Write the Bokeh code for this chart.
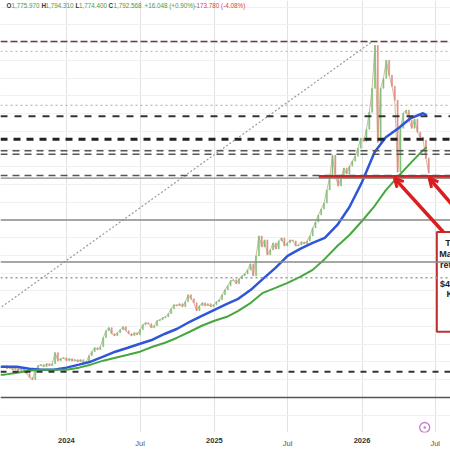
import datetime as dt
import pandas as pd
from bokeh.plotting import figure
from bokeh.models import (ColumnDataSource, Span, Range1d, FixedTicker, SingleIntervalTicker,
                          DatetimeAxis, Label, Arrow, OpenHead)
from bokeh.embed import file_html
from bokeh.resources import INLINE
from bokeh.core.properties import value

# ---------------- data ----------------
week_start = "2023-07-24"
close = [2668, 2686, 2659, 2677, 2650, 2668, 2641, 2659, 2632, 2614,
         2578, 2560, 2650, 2686, 2695, 2677, 2704, 2686, 2704, 2803,
         2731, 2749, 2758, 2731, 2749, 2731, 2740, 2722, 2740, 2713,
         2722, 2776, 2812, 2848, 2830, 2857, 2938, 3001, 3028, 2974,
         2956, 2983, 3010, 3037, 3001, 2974, 2956, 2983, 2965, 3010,
         3055, 3073, 3064, 3028, 3046, 3091, 3100, 3118, 3127, 3154,
         3199, 3235, 3226, 3244, 3217, 3262, 3325, 3289, 3253, 3181,
         3226, 3253, 3226, 3244, 3217, 3235, 3262, 3280, 3325, 3370,
         3406, 3451, 3460, 3424, 3469, 3496, 3514, 3550, 3604, 3496,
         3676, 3856, 3757, 3820, 3685, 3730, 3793, 3739, 3811, 3838,
         3766, 3793, 3820, 3811, 3766, 3775, 3802, 3784, 3811, 3856,
         3928, 3982, 4045, 4099, 4153, 4270, 4387, 4585, 4396, 4306,
         4378, 4468, 4414, 4486, 4531, 4576, 4648, 4738, 4711, 4819,
         4972, 5188, 5575, 4702, 5188, 5278, 5440, 5305, 5206, 5080,
         4432, 4828, 4963, 4990, 4900, 4828, 4909, 4792, 4747, 4720,
         4558, 4423]

ma_dates = ["2023-07-22", "2023-08-01", "2023-09-01", "2023-10-01", "2023-11-01", "2023-12-01",
            "2024-01-01", "2024-02-01", "2024-03-01", "2024-04-01", "2024-05-01", "2024-06-01",
            "2024-07-01", "2024-08-01", "2024-09-01", "2024-10-01", "2024-11-01", "2024-12-01",
            "2025-01-01", "2025-02-01", "2025-03-01", "2025-04-01", "2025-05-01", "2025-06-01",
            "2025-07-01", "2025-08-01", "2025-09-01", "2025-10-01", "2025-11-01", "2025-12-01",
            "2026-01-01", "2026-02-01", "2026-03-01", "2026-04-01", "2026-05-01", "2026-06-01",
            "2026-06-10"]
ma100 = [2677, 2677, 2677, 2659, 2650, 2650, 2668, 2695, 2722, 2767,
         2812, 2848, 2884, 2920, 2974, 3019, 3082, 3136, 3190, 3244,
         3289, 3370, 3469, 3568, 3676, 3739, 3793, 3838, 3955, 4117,
         4342, 4612, 4747, 4828, 4918, 4963, 4945]
ma200 = [2605, 2605, 2623, 2641, 2650, 2650, 2650, 2668, 2695, 2731,
         2758, 2785, 2812, 2857, 2893, 2938, 2992, 3046, 3091, 3127,
         3181, 3253, 3343, 3388, 3433, 3487, 3550, 3649, 3766, 3865,
         3991, 4126, 4270, 4396, 4513, 4630, 4657]

level_prices = [5611, 5521, 5035, 4936, 4729, 4624, 4594, 4402, 4378, 4000, 3622, 3478, 2632, 2398]

trend_dates = ["2023-07-01", "2026-01-27"]
trend_prices = [3154, 5611]

support_price = 4390
support_dates = ["2025-09-16", "2026-09-30"]

tick_dates = ["2024-01-01", "2024-07-01", "2025-01-01", "2025-07-01", "2026-01-01", "2026-07-01"]
tick_labels = ["2024", "Jul", "2025", "Jul", "2026", "Jul"]

header_parts = ["O", "1,775.970", "H", "1,794.310", "L", "1,774.400", "C", "1,792.568",
                "+16.048 (+0.90%)", "-173.780 (-4.08%)"]

note_lines = ["The 200 day", "May lows and", "retested at", "$4,400", "Key support"]

# ---------------- styles ----------------
level_styles = [  # color, width, dash
    ("#6e3b3b", 1.5, "7 3"),
    ("#d9a3a3", 1.0, "2 3"),
    ("#c99a9a", 1.0, "2 3"),
    ("#333333", 2.0, "7 7"),
    ("#222222", 3.0, "7 6"),
    ("#555555", 1.5, "7 5"),
    ("#555555", 1.5, "7 5"),
    ("#555555", 1.5, "7 5"),
    ("#8a8a8a", 1.3, "solid"),
    ("#8a8a8a", 1.5, "solid"),
    ("#8a8a8a", 1.5, "solid"),
    ("#9a9a9a", 1.5, "2 3"),
    ("#333333", 2.0, "6 6"),
    ("#555555", 1.5, "solid"),
]
RED = "#d81e1e"
FONT = "Liberation Sans"


def ms(s):
    return pd.Timestamp(s).value / 1e6


dates = pd.date_range(week_start, periods=len(close), freq="7D")
opens = [close[0]] + close[:-1]
src = ColumnDataSource(dict(
    date=dates,
    top=[max(o, c) for o, c in zip(opens, close)],
    bottom=[min(o, c) for o, c in zip(opens, close)],
    color=["#7fbf78" if c >= o else "#e08a80" for o, c in zip(opens, close)],
))

p = figure(width=450, height=450, x_axis_type="datetime", y_axis_location=None,
           x_range=Range1d(dt.datetime(2023, 7, 22), dt.datetime(2026, 8, 7, 19)),
           y_range=Range1d(2083, 5980),
           output_backend="svg", toolbar_location=None,
           min_border_left=0, min_border_right=0, min_border_top=0, min_border_bottom=17)
p.outline_line_color = None
p.background_fill_color = "white"
p.border_fill_color = "white"

# grids
p.xgrid.ticker = FixedTicker(ticks=[ms(d) for d in tick_dates])
p.xgrid.grid_line_color = "#e2e2e2"
p.ygrid.ticker = SingleIntervalTicker(interval=160)
p.ygrid.grid_line_color = "#f0f0f0"

# axes: years bold, months normal
year_ticks = [ms(d) for d, l in zip(tick_dates, tick_labels) if l != "Jul"]
jul_ticks = [ms(d) for d, l in zip(tick_dates, tick_labels) if l == "Jul"]
ax = p.xaxis[0]
ax.ticker = FixedTicker(ticks=year_ticks)
ax.major_label_overrides = {ms(d): l for d, l in zip(tick_dates, tick_labels) if l != "Jul"}
axB = DatetimeAxis(ticker=FixedTicker(ticks=jul_ticks),
                   major_label_overrides={ms(d): l for d, l in zip(tick_dates, tick_labels) if l == "Jul"})
p.add_layout(axB, "below")
for a, style, color, size, stand in [(ax, "bold", "#333333", "7.5px", 5), (axB, "normal", "#555555", "7.5px", -7)]:
    a.major_label_text_font = FONT
    a.major_label_text_font_style = style
    a.major_label_text_color = color
    a.major_label_text_font_size = size
    a.major_label_standoff = stand
    a.axis_line_color = None
    a.major_tick_line_color = None
    a.minor_tick_line_color = None
    a.major_tick_out = 0
    a.major_tick_in = 0

# level lines
for lvl, (c, w, d) in zip(level_prices, level_styles):
    p.add_layout(Span(location=lvl, dimension="width", line_color=c, line_width=w, line_dash=d))

# trend line
p.line(pd.to_datetime(trend_dates), trend_prices, line_color="#9a9a9a", line_width=1.2, line_dash="2 2")

# candles (weekly)
p.line(dates, close, line_color="#c9b48e", line_width=1, line_alpha=0.9)
p.vbar(x="date", top="top", bottom="bottom", width=2.5 * 86400000, fill_color="color",
       line_color="color", line_width=0.6, source=src)

# moving averages
p.line(pd.to_datetime(ma_dates), ma100, line_color="#2f56d8", line_width=2.5)
p.line(pd.to_datetime(ma_dates), ma200, line_color="#45a83d", line_width=2)

# red support line
p.segment(x0=[ms(support_dates[0])], y0=[support_price], x1=[ms(support_dates[1])], y1=[support_price],
          line_color=RED, line_width=3.5)

# arrows
for xs, ys, xe, ye in [("2026-07-21", 3892, "2026-03-22", 4378),
                       ("2026-09-26", 3946, "2026-06-16", 4378)]:
    p.add_layout(Arrow(end=OpenHead(size=9, line_color=RED, line_width=3),
                       x_start=ms(xs), y_start=ys, x_end=ms(xe), y_end=ye,
                       line_color=RED, line_width=3.5))

# note box
p.quad(left=[ms("2026-07-05")], right=[ms("2026-11-30")], top=[3892], bottom=[2992],
       fill_color="white", line_color="#c03030", line_width=2)
note_x = ["2026-07-26", "2026-07-11", "2026-07-13", "2026-07-13", "2026-07-29"]
note_y = [3793, 3694, 3595, 3420, 3334]
p.text(x=[ms(d) for d in note_x], y=note_y, text=note_lines, text_font=value(FONT),
       text_font_size="9px", text_font_style="bold", text_color="#222222", text_baseline="middle")

# header
header_x = [6, 11, 41, 45, 75, 78.5, 108, 113, 144, 194]
header_colors = ["#333333", "#4a9a4a", "#333333", "#4a9a4a", "#333333", "#4a9a4a",
                 "#333333", "#4a9a4a", "#4a9a4a", "#d04848"]
for t, x, c in zip(header_parts, header_x, header_colors):
    p.add_layout(Label(x=x, y=427, x_units="screen", y_units="screen", text=t,
                       text_font=FONT, text_font_size="6.3px",
                       text_font_style="bold" if len(t) == 1 else "normal",
                       text_color=c, text_baseline="middle"))

# small icon
p.scatter(x=[ms("2026-06-05")], y=[2128], marker="circle_dot", size=10, fill_color=None,
          line_color="#c27fd0", line_width=1.3)

open("out.html", "w").write(file_html(p, INLINE))
